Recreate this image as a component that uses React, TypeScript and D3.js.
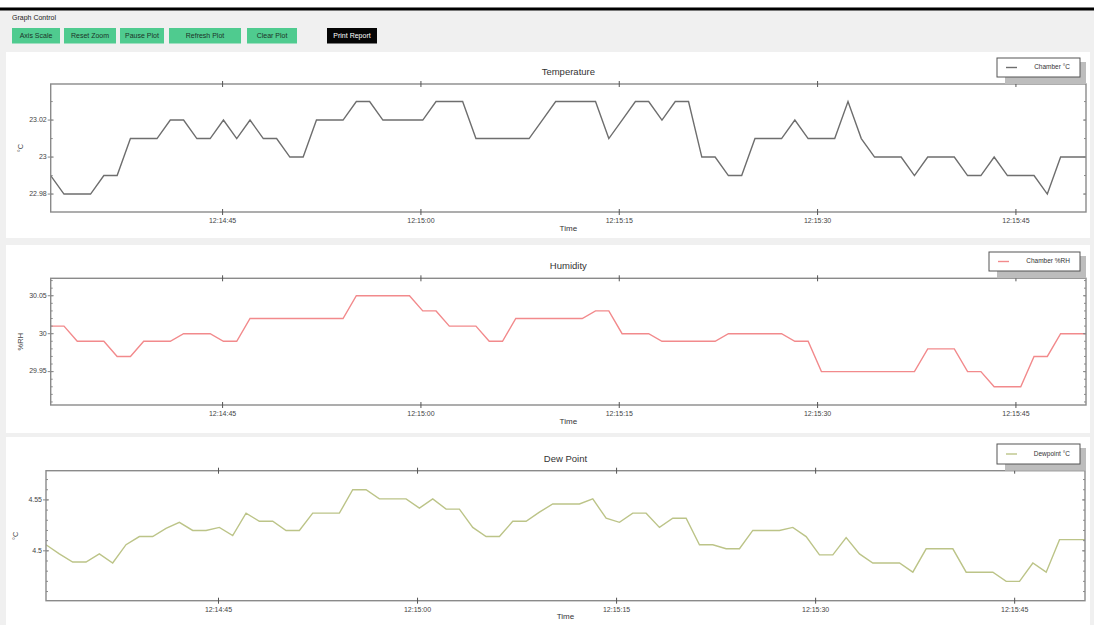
import React from 'react';
import * as d3 from 'd3';

// ---- data (1 sample ≈ every second) ----
const temperatureC = [
  22.99, 22.98, 22.98, 22.98, 22.99, 22.99, 23.01, 23.01, 23.01, 23.02,
  23.02, 23.01, 23.01, 23.02, 23.01, 23.02, 23.01, 23.01, 23.0, 23.0,
  23.02, 23.02, 23.02, 23.03, 23.03, 23.02, 23.02, 23.02, 23.02, 23.03,
  23.03, 23.03, 23.01, 23.01, 23.01, 23.01, 23.01, 23.02, 23.03, 23.03,
  23.03, 23.03, 23.01, 23.02, 23.03, 23.03, 23.02, 23.03, 23.03, 23.0,
  23.0, 22.99, 22.99, 23.01, 23.01, 23.01, 23.02, 23.01, 23.01, 23.01,
  23.03, 23.01, 23.0, 23.0, 23.0, 22.99, 23.0, 23.0, 23.0, 22.99,
  22.99, 23.0, 22.99, 22.99, 22.99, 22.98, 23.0, 23.0, 23.0,
];
const humidityRH = [
  30.01, 30.01, 29.99, 29.99, 29.99, 29.97, 29.97, 29.99, 29.99, 29.99,
  30.0, 30.0, 30.0, 29.99, 29.99, 30.02, 30.02, 30.02, 30.02, 30.02,
  30.02, 30.02, 30.02, 30.05, 30.05, 30.05, 30.05, 30.05, 30.03, 30.03,
  30.01, 30.01, 30.01, 29.99, 29.99, 30.02, 30.02, 30.02, 30.02, 30.02,
  30.02, 30.03, 30.03, 30.0, 30.0, 30.0, 29.99, 29.99, 29.99, 29.99,
  29.99, 30.0, 30.0, 30.0, 30.0, 30.0, 29.99, 29.99, 29.95, 29.95,
  29.95, 29.95, 29.95, 29.95, 29.95, 29.95, 29.98, 29.98, 29.98, 29.95,
  29.95, 29.93, 29.93, 29.93, 29.97, 29.97, 30.0, 30.0, 30.0,
];
const dewpointC = [
  4.506, 4.497, 4.489, 4.489, 4.497, 4.488, 4.506, 4.514, 4.514, 4.522,
  4.528, 4.52, 4.52, 4.523, 4.515, 4.537, 4.529, 4.529, 4.52, 4.52,
  4.537, 4.537, 4.537, 4.56, 4.56, 4.551, 4.551, 4.551, 4.542, 4.551,
  4.541, 4.541, 4.523, 4.514, 4.514, 4.529, 4.529, 4.538, 4.546, 4.546,
  4.546, 4.551, 4.532, 4.528, 4.537, 4.537, 4.523, 4.532, 4.532, 4.506,
  4.506, 4.502, 4.502, 4.52, 4.52, 4.52, 4.523, 4.514, 4.496, 4.496,
  4.513, 4.497, 4.488, 4.488, 4.488, 4.479, 4.502, 4.502, 4.502, 4.479,
  4.479, 4.479, 4.47, 4.47, 4.488, 4.479, 4.511, 4.511, 4.511,
];

const startTime = new Date(2024, 0, 1, 12, 14, 32, 0);
const endTime = new Date(2024, 0, 1, 12, 15, 50, 300);
const sampleMs = 1005;

const buttonLabels = ['Axis Scale', 'Reset Zoom', 'Pause Plot', 'Refresh Plot', 'Clear Plot'];
const printLabel = 'Print Report';
const panelTitles = ['Temperature', 'Humidity', 'Dew Point'];
const yAxisLabels = ['°C', '%RH', '°C'];
const legendLabels = ['Chamber °C', 'Chamber %RH', 'Dewpoint °C'];
const yDomains: [number, number][] = [
  [22.9703, 23.0395],
  [29.906, 30.073],
  [4.451, 4.5787],
];
const yMajorTicks = [
  [22.98, 23.0, 23.02],
  [29.95, 30.0, 30.05],
  [4.5, 4.55],
];
const yMinorStep = 0.01;

// ---- layout ----
const FONT = '"Liberation Sans", Arial, sans-serif';
const W = 1094;
const H = 625;
const buttonBoxes = [
  [12, 48], [64, 52], [120, 44], [169, 72], [247, 50],
];
const printBox = [327, 50];

const panelLayouts = [
  { bg: [6, 52, 1090, 238], plot: { l: 50.7, r: 1086, t: 84, b: 212 }, legend: [997, 58, 1080, 77] },
  { bg: [6, 245, 1090, 433], plot: { l: 50.7, r: 1086, t: 278.3, b: 405 }, legend: [989, 252, 1080, 271] },
  { bg: [6, 437, 1090, 625], plot: { l: 46, r: 1085, t: 470.7, b: 600.7 }, legend: [997, 444, 1080, 464] },
];
const lineColors = ['#6e6e6e', '#f28a8c', '#bcc488'];
const frameColor = '#8a8a8a';

const series = [temperatureC, humidityRH, dewpointC];

function Panel({ idx }: { idx: number }) {
  const L = panelLayouts[idx];
  const { l, r, t, b } = L.plot;
  const x = d3.scaleTime().domain([startTime, endTime]).range([l, r]);
  const y = d3.scaleLinear().domain(yDomains[idx]).range([b, t]);
  const data = series[idx];
  const pts = data.map((v, i) => ({ t: new Date(startTime.getTime() + i * sampleMs), v }));
  const line = d3
    .line<{ t: Date; v: number }>()
    .x((d) => x(d.t))
    .y((d) => y(d.v));
  const xTicks = x.ticks(d3.timeSecond.every(15) as any);
  const fmt = d3.timeFormat('%H:%M:%S');
  const [d0, d1] = yDomains[idx];
  const minor: number[] = [];
  for (let k = Math.ceil(d0 / yMinorStep); k * yMinorStep <= d1 + 1e-9; k++) minor.push(+(k * yMinorStep).toFixed(3));
  const clipId = `clip${idx}`;
  const [lx0, ly0, lx1, ly1] = L.legend;
  const cx = (l + r) / 2;
  const cy = (t + b) / 2;
  return (
    <g>
      <rect x={L.bg[0]} y={L.bg[1]} width={L.bg[2] - L.bg[0]} height={L.bg[3] - L.bg[1]} fill="#ffffff" />
      <clipPath id={clipId}>
        <rect x={l} y={t} width={r - l} height={b - t} />
      </clipPath>
      <text x={cx} y={t - 11.5} textAnchor="middle" dominantBaseline="middle" fontSize={9.5} fill="#333" fontFamily={FONT}>
        {panelTitles[idx]}
      </text>
      <path d={line(pts) || ''} fill="none" stroke={lineColors[idx]} strokeWidth={1.4} clipPath={`url(#${clipId})`} />
      <rect x={l} y={t} width={r - l} height={b - t} fill="none" stroke={frameColor} strokeWidth={1.4} />
      {minor.map((v) => (
        <g key={`m${v}`}>
          <line x1={l} x2={l + 2} y1={y(v)} y2={y(v)} stroke={frameColor} strokeWidth={1} />
          <line x1={r} x2={r - 2} y1={y(v)} y2={y(v)} stroke={frameColor} strokeWidth={1} />
        </g>
      ))}
      {yMajorTicks[idx].map((v) => (
        <g key={`M${v}`}>
          <line x1={l - 3} x2={l + 3} y1={y(v)} y2={y(v)} stroke={frameColor} strokeWidth={1} />
          <line x1={r} x2={r - 3} y1={y(v)} y2={y(v)} stroke={frameColor} strokeWidth={1} />
          <text x={l - 4} y={y(v)} textAnchor="end" dominantBaseline="middle" fontSize={7} fill="#444" fontFamily={FONT}>
            {String(+v.toFixed(3))}
          </text>
        </g>
      ))}
      {xTicks.map((d) => (
        <g key={d.getTime()}>
          <line x1={x(d)} x2={x(d)} y1={t - 3} y2={t + 3} stroke="#555" strokeWidth={1} />
          <line x1={x(d)} x2={x(d)} y1={b - 3} y2={b + 3} stroke="#555" strokeWidth={1} />
          <text x={x(d)} y={b + 9} textAnchor="middle" dominantBaseline="middle" fontSize={7} fill="#444" fontFamily={FONT}>
            {fmt(d)}
          </text>
        </g>
      ))}
      <text x={cx} y={b + 16.5} textAnchor="middle" dominantBaseline="middle" fontSize={8} fill="#333" fontFamily={FONT}>
        Time
      </text>
      <text
        transform={`translate(${l - 30},${cy}) rotate(-90)`}
        textAnchor="middle"
        dominantBaseline="middle"
        fontSize={7.5}
        fill="#444"
        fontFamily={FONT}
      >
        {yAxisLabels[idx]}
      </text>
      <rect x={lx0 + 8} y={ly0 + 4} width={lx1 - lx0 - 2} height={t - ly0 - 4} fill="#bdbdbd" />
      <rect x={lx0} y={ly0} width={lx1 - lx0} height={ly1 - ly0} fill="#ffffff" stroke="#555" strokeWidth={1} />
      <line x1={lx0 + 9} x2={lx0 + 20} y1={(ly0 + ly1) / 2} y2={(ly0 + ly1) / 2} stroke={lineColors[idx]} strokeWidth={1.4} />
      <text x={lx1 - 10} y={(ly0 + ly1) / 2} textAnchor="end" dominantBaseline="middle" fontSize={6.5} fill="#333" fontFamily={FONT}>
        {legendLabels[idx]}
      </text>
    </g>
  );
}

export default function App() {
  return (
    <div style={{ position: 'absolute', left: 0, top: 0, width: W, height: H, overflow: 'hidden' }}>
      <svg width={W} height={H} style={{ display: 'block' }}>
        <rect x={0} y={0} width={W} height={H} fill="#f0f0f0" />
        <rect x={0} y={0} width={W} height={7.5} fill="#ffffff" />
        <rect x={0} y={7.5} width={W} height={3} fill="#000000" />
        <text x={12} y={18.5} dominantBaseline="middle" fontSize={7} fill="#222" fontFamily={FONT}>
          Graph Control
        </text>
        {buttonLabels.map((lab, i) => (
          <g key={lab}>
            <rect x={buttonBoxes[i][0]} y={28} width={buttonBoxes[i][1]} height={15.5} fill="#4fcb8f" />
            <text
              x={buttonBoxes[i][0] + buttonBoxes[i][1] / 2}
              y={36}
              textAnchor="middle"
              dominantBaseline="middle"
              fontSize={7}
              fill="#1c3329"
              fontFamily={FONT}
            >
              {lab}
            </text>
          </g>
        ))}
        <rect x={printBox[0]} y={28} width={printBox[1]} height={15.5} fill="#050505" />
        <text x={printBox[0] + printBox[1] / 2} y={36} textAnchor="middle" dominantBaseline="middle" fontSize={7} fill="#ffffff" fontFamily={FONT}>
          {printLabel}
        </text>
        {[0, 1, 2].map((i) => (
          <Panel key={i} idx={i} />
        ))}
      </svg>
    </div>
  );
}
